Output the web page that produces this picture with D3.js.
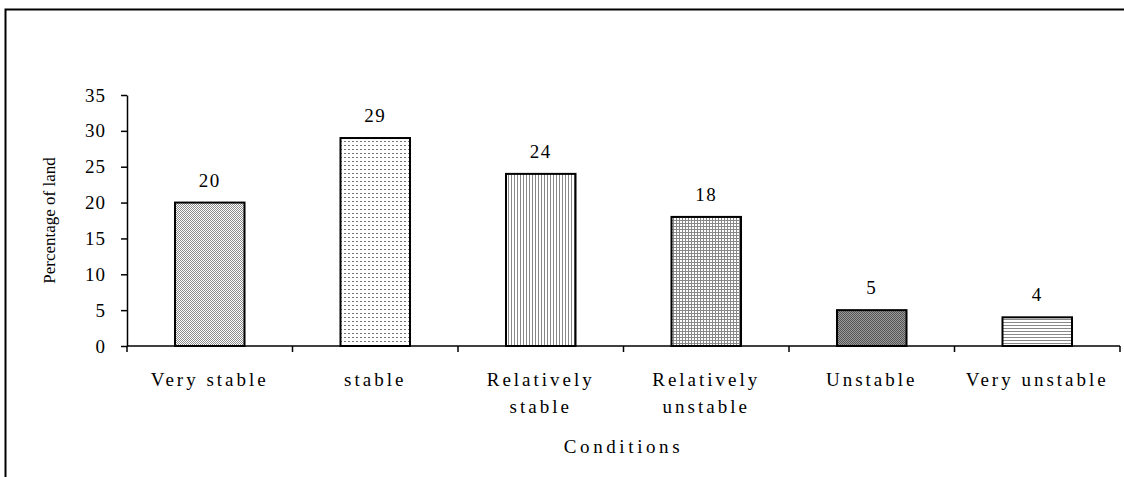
<!DOCTYPE html>
<html>
<head>
<meta charset="utf-8">
<script src="https://cdn.jsdelivr.net/npm/d3@7"></script>
<style>
  html, body { margin: 0; padding: 0; background: #fff; }
  svg { display: block; }
  svg text { font-family: 'Liberation Serif', 'Times New Roman', Times, serif; fill: #000; }
</style>
</head>
<body>
<svg id="chart" width="1124" height="477"></svg>
<script>
// Land stability classes and their share of total land area (%)
const categories = [
  ["Very stable"],
  ["stable"],
  ["Relatively", "stable"],
  ["Relatively", "unstable"],
  ["Unstable"],
  ["Very unstable"]
];
const values = [20, 29, 24, 18, 5, 4];
const yTicks = [0, 5, 10, 15, 20, 25, 30, 35];
const fills = ["checker", "dots", "vlines", "grid", "dark", "hlines"];

const FONT = "'Liberation Serif', 'Times New Roman', serif";
const svg = d3.select("#chart").attr("font-family", FONT);

// Outer frame
svg.append("rect")
  .attr("x", 5.5).attr("y", 9.5)
  .attr("width", 1130).attr("height", 480)
  .attr("fill", "none").attr("stroke", "#000").attr("stroke-width", 2);

// Fill patterns for the bars
const defs = svg.append("defs");
function pat(id, w, h) {
  const p = defs.append("pattern").attr("id", id)
    .attr("patternUnits", "userSpaceOnUse").attr("width", w).attr("height", h);
  p.append("rect").attr("width", w).attr("height", h).attr("fill", "#fff");
  return p;
}
let p = pat("checker", 2, 2);
p.append("rect").attr("x", 0).attr("y", 0).attr("width", 1).attr("height", 1).attr("fill", "#8a8a8a");
p.append("rect").attr("x", 1).attr("y", 1).attr("width", 1).attr("height", 1).attr("fill", "#8a8a8a");

p = pat("dots", 4, 4);
p.append("rect").attr("x", 0).attr("y", 1).attr("width", 2).attr("height", 1).attr("fill", "#777");

p = pat("vlines", 3, 3);
p.append("rect").attr("x", 1).attr("y", 0).attr("width", 1).attr("height", 3).attr("fill", "#888");

p = pat("grid", 3, 3);
p.append("rect").attr("x", 1).attr("y", 0).attr("width", 1).attr("height", 3).attr("fill", "#888");
p.append("rect").attr("x", 0).attr("y", 1).attr("width", 3).attr("height", 1).attr("fill", "#888");

p = defs.append("pattern").attr("id", "dark")
  .attr("patternUnits", "userSpaceOnUse").attr("width", 2).attr("height", 2);
p.append("rect").attr("width", 2).attr("height", 2).attr("fill", "#999");
p.append("rect").attr("x", 0).attr("y", 0).attr("width", 1).attr("height", 1).attr("fill", "#555");
p.append("rect").attr("x", 1).attr("y", 1).attr("width", 1).attr("height", 1).attr("fill", "#555");

p = pat("hlines", 3, 3);
p.append("rect").attr("x", 0).attr("y", 1).attr("width", 3).attr("height", 1).attr("fill", "#888");

// Plot area
const plotLeft = 127, plotRight = 1120, plotTop = 95, plotBottom = 346;

const x = d3.scaleBand()
  .domain(d3.range(categories.length))
  .range([plotLeft, plotRight])
  .paddingInner(0.58).paddingOuter(0.29);

const y = d3.scaleLinear().domain([0, 35]).range([plotBottom, plotTop]);

// Bars
svg.append("g").selectAll("rect")
  .data(values)
  .join("rect")
  .attr("x", (d, i) => x(i))
  .attr("y", d => y(d))
  .attr("width", x.bandwidth())
  .attr("height", d => y(0) - y(d))
  .attr("fill", (d, i) => `url(#${fills[i]})`)
  .attr("stroke", "#000").attr("stroke-width", 2);

// Value labels
svg.append("g").selectAll("text")
  .data(values)
  .join("text")
  .attr("x", (d, i) => x(i) + x.bandwidth() / 2)
  .attr("y", d => y(d) - 16)
  .attr("text-anchor", "middle")
  .attr("font-family", FONT)
  .attr("font-size", 19)
  .attr("letter-spacing", 1.5)
  .text(d => d);

// Y axis
const yAxis = svg.append("g")
  .attr("transform", `translate(${plotLeft},0)`)
  .call(d3.axisLeft(y).tickValues(yTicks).tickSize(6).tickPadding(15).tickSizeOuter(0));
yAxis.select(".domain").attr("stroke", "#000").attr("stroke-width", 1.5);
yAxis.selectAll(".tick line").attr("stroke", "#000").attr("stroke-width", 1.5);
yAxis.selectAll(".tick text")
  .attr("font-family", FONT)
  .attr("font-size", 19).attr("letter-spacing", 1).attr("fill", "#000");

// X axis: line with ticks at category boundaries
const boundaries = d3.range(categories.length + 1)
  .map(i => plotLeft + i * (plotRight - plotLeft) / categories.length);
svg.append("line")
  .attr("x1", plotLeft).attr("x2", plotRight).attr("y1", plotBottom).attr("y2", plotBottom)
  .attr("stroke", "#000").attr("stroke-width", 1.5);
svg.append("g").selectAll("line")
  .data(boundaries)
  .join("line")
  .attr("x1", d => d).attr("x2", d => d)
  .attr("y1", plotBottom).attr("y2", plotBottom + 6)
  .attr("stroke", "#000").attr("stroke-width", 1.5);

// Category labels
const catG = svg.append("g").selectAll("text")
  .data(categories)
  .join("text")
  .attr("x", (d, i) => x(i) + x.bandwidth() / 2)
  .attr("y", 386)
  .attr("text-anchor", "middle")
  .attr("font-family", FONT)
  .attr("font-size", 19)
  .attr("letter-spacing", 3);
catG.selectAll("tspan")
  .data(d => d)
  .join("tspan")
  .attr("x", function () { return this.parentNode.getAttribute("x"); })
  .attr("dy", (d, i) => i === 0 ? 0 : 27)
  .text(d => d);

// Axis titles
svg.append("text")
  .attr("x", (plotLeft + plotRight) / 2).attr("y", 453)
  .attr("text-anchor", "middle")
  .attr("font-family", FONT).attr("font-size", 19)
  .attr("letter-spacing", 3.6)
  .text("Conditions");

svg.append("text")
  .attr("transform", `translate(55,${(plotTop + plotBottom) / 2}) rotate(-90)`)
  .attr("text-anchor", "middle")
  .attr("font-family", FONT).attr("font-size", 17)
  .text("Percentage of land");
</script>
</body>
</html>
